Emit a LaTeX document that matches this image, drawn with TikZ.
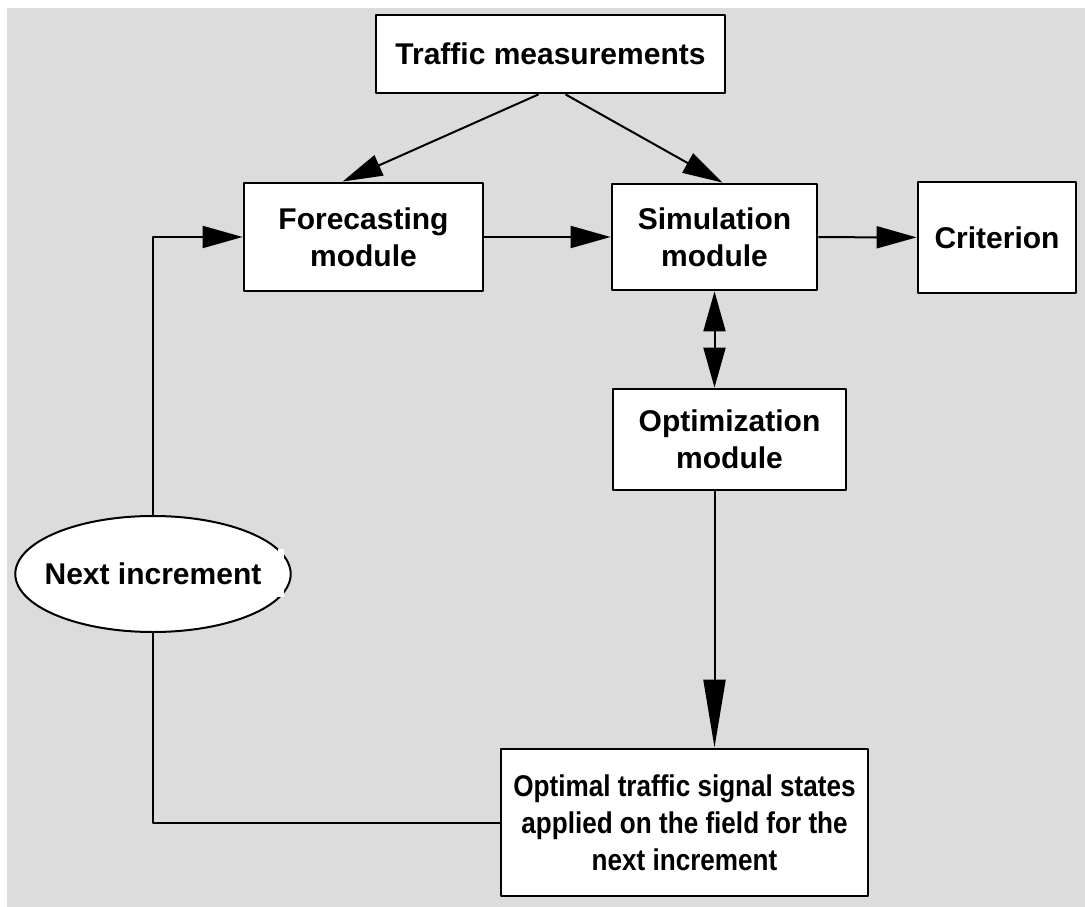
\documentclass[tikz,border=0pt]{standalone}
\usepackage{fontspec}
\setmainfont{Liberation Sans}
\newfontfamily\narrowsans{Liberation Sans}[FakeStretch=0.87]
\usetikzlibrary{arrows.meta,shapes.geometric}
\begin{document}
\begin{tikzpicture}[x=1pt, y=-1pt, >={Triangle[length=40pt,width=22pt]},
  font=\fontsize{30}{37}\selectfont\bfseries, line join=round,
  box/.style={draw, line width=2.8pt, fill=white, align=center, inner sep=0pt},
  link/.style={line width=2pt}]
\definecolor{bggray}{HTML}{DCDCDC}
\useasboundingbox (0,0) rectangle (1085,907);
\fill[bggray] (7,8) rectangle (1085,907);
% boxes
\node[box, minimum width=349pt, minimum height=78pt] (traffic) at (550.5,54) {Traffic measurements};
\node[box, minimum width=239pt, minimum height=108pt] (forecast) at (363.5,237) {Forecasting\\module};
\node[box, minimum width=205pt, minimum height=106pt] (sim) at (714.5,237) {Simulation\\module};
\node[box, minimum width=158pt, minimum height=111pt] (crit) at (997,237.5) {Criterion};
\node[box, minimum width=233pt, minimum height=101pt] (optim) at (729.5,439.5) {Optimization\\module};
\node[box, minimum width=367pt, minimum height=147pt, font=\narrowsans\fontsize{30}{37}\selectfont\bfseries] (apply) at (684.5,822.5) {Optimal traffic signal states\\applied on the field for the\\next increment};
\node[draw, ellipse, line width=2pt, fill=white, minimum height=116pt, inner xsep=-11pt, inner ysep=0pt] (next) at (153,574) {Next increment};
\fill[white] (278,549) rectangle (284,597);
% connectors
\draw[link,->] ([xshift=-12pt]traffic.south) -- ([xshift=-21pt]forecast.north);
\draw[link,->] ([xshift=15pt]traffic.south) -- ([xshift=8pt]sim.north);
\draw[link,->] (forecast) -- (sim);
\draw[link,->] (sim) -- (crit);
\draw[link,<->] (sim.south) -- (sim.south |- optim.north);
\draw[link,->,>={Triangle[length=68pt,width=22pt]}] (sim.south |- optim.south) -- (sim.south |- apply.north);
\draw[link,->] (next.north) |- (forecast.west);
\draw[link] (next.south) |- (apply.west);
\end{tikzpicture}
\end{document}
